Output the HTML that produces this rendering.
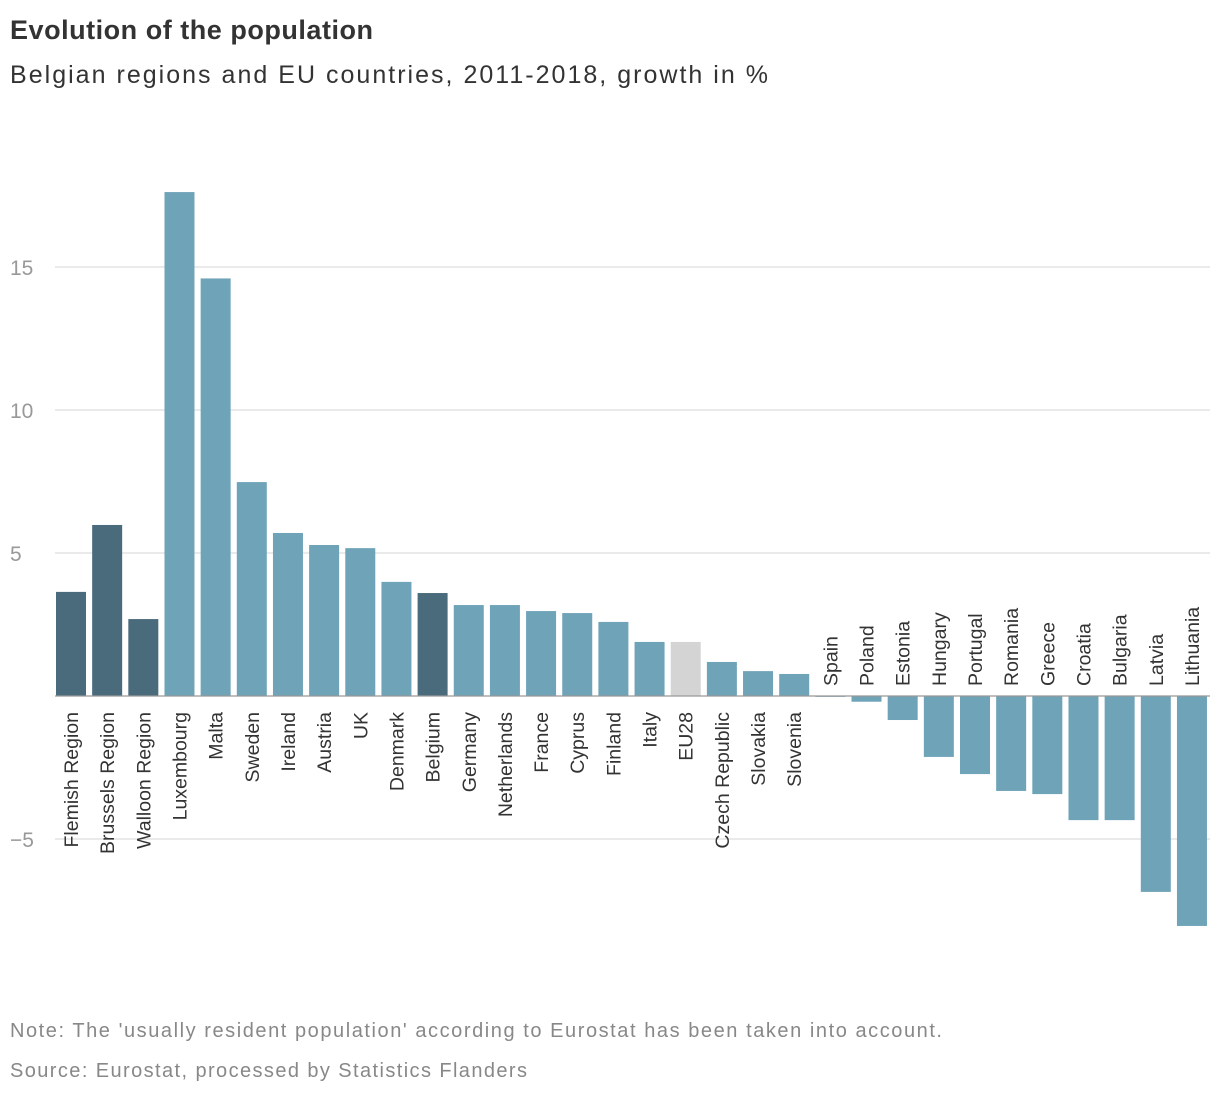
<!DOCTYPE html>
<html><head><meta charset="utf-8"><style>
body{margin:0;background:#fff;font-family:"Liberation Sans",sans-serif;}
svg text{font-family:"Liberation Sans",sans-serif;}
</style></head><body>
<svg id="chart" width="1220" height="1094" xmlns="http://www.w3.org/2000/svg">
<text x="10" y="39" font-size="27" font-weight="bold" fill="#333" textLength="363" lengthAdjust="spacing">Evolution of the population</text>
<text x="10" y="83" font-size="25" fill="#333" textLength="758" lengthAdjust="spacing">Belgian regions and EU countries, 2011-2018, growth in %</text>
<g id="grid"></g>
<g id="bars"></g>
<g id="labels"></g>
<text x="10" y="1037" font-size="20" fill="#888" textLength="932" lengthAdjust="spacing">Note: The 'usually resident population' according to Eurostat has been taken into account.</text>
<text x="10" y="1077" font-size="20" fill="#888" textLength="517" lengthAdjust="spacing">Source: Eurostat, processed by Statistics Flanders</text>
</svg>
<script>
const categories=["Flemish Region","Brussels Region","Walloon Region","Luxembourg","Malta","Sweden","Ireland","Austria","UK","Denmark","Belgium","Germany","Netherlands","France","Cyprus","Finland","Italy","EU28","Czech Republic","Slovakia","Slovenia","Spain","Poland","Estonia","Hungary","Portugal","Romania","Greece","Croatia","Bulgaria","Latvia","Lithuania"];
const values=[3.64,5.98,2.69,17.62,14.6,7.48,5.7,5.28,5.17,3.99,3.6,3.18,3.18,2.97,2.9,2.59,1.89,1.89,1.19,0.87,0.77,-0.03,-0.2,-0.84,-2.13,-2.73,-3.32,-3.43,-4.34,-4.34,-6.85,-8.04];
const groups=["region","region","region","c","c","c","c","c","c","c","region","c","c","c","c","c","c","eu","c","c","c","c","c","c","c","c","c","c","c","c","c","c"];
const ticks=[-5,5,10,15];
const NS="http://www.w3.org/2000/svg";
const y=v=>696-v*28.6;
const x=i=>56+i*36.16;
const bw=30;
const grid=document.getElementById('grid'),bars=document.getElementById('bars'),labels=document.getElementById('labels');
function mk(tag,attrs,parent){const e=document.createElementNS(NS,tag);for(const k in attrs)e.setAttribute(k,attrs[k]);parent.appendChild(e);return e;}
ticks.forEach(t=>{
  const l=mk('line',{x1:55,x2:1210,y1:y(t),y2:y(t),stroke:'#ddd','stroke-width':1.3},grid);
  
  
  const tx=mk('text',{x:10,y:y(t)+8,'font-size':21,fill:'#999'},grid);
  tx.textContent=t<0?'\u2212'+Math.abs(t):t;
  
  
});
const colors={region:'#4a6b7c',c:'#6fa3b8',eu:'#d4d4d4'};
values.forEach((v,i)=>{
  const top=Math.min(y(v),y(0)),h=Math.abs(y(v)-y(0));
  const r=mk('rect',{x:x(i),y:top,width:bw,height:Math.max(h,0.5),fill:colors[groups[i]]},bars);
  
  
  const cx=x(i)+bw/2+7;
  let t;
  if(v>=0){t=mk('text',{transform:`translate(${cx},712) rotate(-90)`,'text-anchor':'end','font-size':19.5,fill:'#333'},labels);}
  else{t=mk('text',{transform:`translate(${cx},686) rotate(-90)`,'text-anchor':'start','font-size':19.5,fill:'#333'},labels);}
  t.textContent=categories[i];
  
  
});
const z=mk('line',{x1:55,x2:1210,y1:y(0),y2:y(0),stroke:'#999','stroke-width':1.3},bars);


</script>
</body></html>
